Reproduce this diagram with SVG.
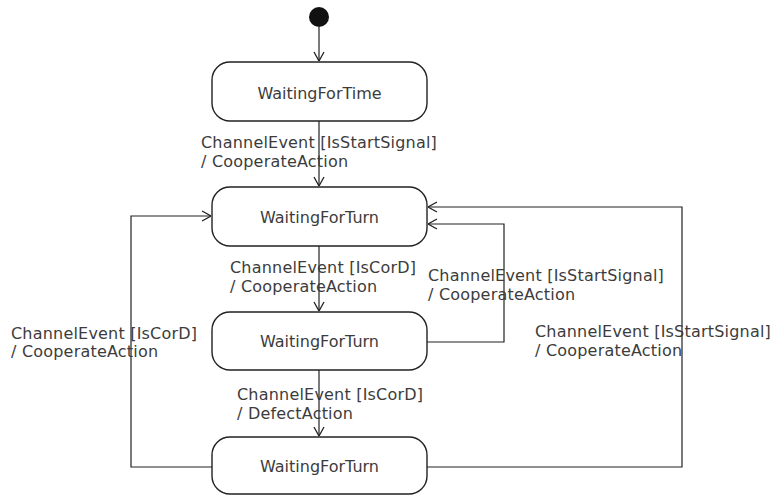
<svg xmlns="http://www.w3.org/2000/svg" width="773" height="497" viewBox="0 0 773 497">
  <defs>
    <marker id="open-arrow" viewBox="0 0 10 12" refX="10" refY="6" markerWidth="10" markerHeight="12" markerUnits="userSpaceOnUse" orient="auto">
      <path d="M1,1 L10,6 L1,11" fill="none" stroke="#222" stroke-width="1.3"/>
    </marker>
  </defs>
  <style>
    .state rect { fill: #fff; stroke: #222; stroke-width: 1.4; }
    .state text { font-family: "DejaVu Sans", "Liberation Sans", sans-serif; font-size: 16px; fill: #3c3c3c; text-anchor: middle; }
    .edges path { fill: none; stroke: #222; stroke-width: 1.2; marker-end: url(#open-arrow); }
    .lbl { font-family: "DejaVu Sans", "Liberation Sans", sans-serif; font-size: 16px; fill: #3c3c3c; letter-spacing: 0.2px; }
  </style>
  <rect width="773" height="497" fill="#fff"/>

  <!-- transitions -->
  <g class="edges">
    <path d="M319,27 V61"/>
    <path d="M319,121 V186"/>
    <path d="M319,246 V311"/>
    <path d="M319,370 V436"/>
    <path d="M212,467 H131 V216 H211"/>
    <path d="M427,342 H504 V224 H428"/>
    <path d="M427,467 H682 V207 H428"/>
  </g>

  <!-- initial pseudostate -->
  <g id="initial">
    <circle cx="319" cy="17" r="10" fill="#111"/>
  </g>

  <g id="waiting-for-time" class="state">
    <rect x="212" y="62" width="215" height="59" rx="18"/>
    <text x="319.5" y="99">WaitingForTime</text>
  </g>
  <g id="waiting-for-turn-1" class="state">
    <rect x="212" y="187" width="215" height="59" rx="18"/>
    <text x="319.5" y="223">WaitingForTurn</text>
  </g>
  <g id="waiting-for-turn-2" class="state">
    <rect x="212" y="312" width="215" height="58" rx="18"/>
    <text x="319.5" y="347">WaitingForTurn</text>
  </g>
  <g id="waiting-for-turn-3" class="state">
    <rect x="212" y="437" width="215" height="57" rx="18"/>
    <text x="319.5" y="472">WaitingForTurn</text>
  </g>

  <!-- transition labels -->
  <g id="labels">
    <text class="lbl" x="201" y="148">ChannelEvent [IsStartSignal]</text>
    <text class="lbl" x="201" y="167">/ CooperateAction</text>
    <text class="lbl" x="230" y="273">ChannelEvent [IsCorD]</text>
    <text class="lbl" x="230" y="292">/ CooperateAction</text>
    <text class="lbl" x="428" y="281">ChannelEvent [IsStartSignal]</text>
    <text class="lbl" x="428" y="300">/ CooperateAction</text>
    <text class="lbl" x="535" y="337">ChannelEvent [IsStartSignal]</text>
    <text class="lbl" x="535" y="356">/ CooperateAction</text>
    <text class="lbl" x="11" y="339">ChannelEvent [IsCorD]</text>
    <text class="lbl" x="11" y="357">/ CooperateAction</text>
    <text class="lbl" x="237" y="400">ChannelEvent [IsCorD]</text>
    <text class="lbl" x="237" y="419">/ DefectAction</text>
  </g>
</svg>
